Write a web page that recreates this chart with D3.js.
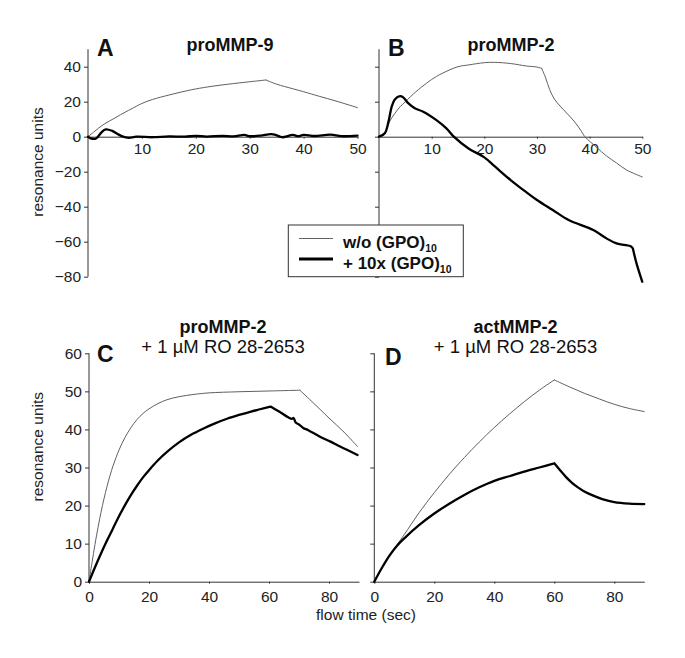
<!DOCTYPE html>
<html>
<head>
<meta charset="utf-8">
<script src="https://cdn.jsdelivr.net/npm/d3@7"></script>
<style>
  html, body { margin: 0; padding: 0; background: #fff; }
  svg { display: block; font-family: "Liberation Sans", Arial, Helvetica, sans-serif; }
</style>
</head>
<body>
<svg id="chart" width="685" height="658"></svg>
<script>
// ---------------- DATA ----------------
const seriesNames = ["w/o (GPO)", "+ 10x (GPO)"];
const seriesSub = "10";
const panelLetters = ["A", "B", "C", "D"];
const panelTitles = ["proMMP-9", "proMMP-2", "proMMP-2", "actMMP-2"];
const panelSubtitles = ["", "", "+ 1 µM RO 28-2653", "+ 1 µM RO 28-2653"];
const yLabel = "resonance units";
const xLabel = "flow time (sec)";

const topYTicks = [-80, -60, -40, -20, 0, 20, 40];
const topXTicks = [10, 20, 30, 40, 50];
const bottomYTicks = [0, 10, 20, 30, 40, 50, 60];
const bottomXTicks = [0, 20, 40, 60, 80];

// Panel A: proMMP-9  [time (sec), resonance units]
const aWithout = [[0,0],[1,2.5],[2,5],[3,7.2],[4,9],[5,10.7],[6,12.5],[7,14.2],[8,15.8],[10,19],[12,21.3],[15,23.8],[18,26],[20,27.3],[23,28.8],[26,30],[30,31.4],[33,32.4],[35,30],[38,27.4],[40,25.7],[43,23],[46,20.4],[50,16.6]];
const aWith = [[0,0],[0.5,-1],[1.5,-1],[2.5,2.5],[3.3,4.2],[4.5,3.3],[5.5,1.5],[6.5,0],[7.5,-0.6],[9,0],[12,-0.3],[15,0.2],[18,0],[20,0.5],[22,0.1],[25,0.5],[27,0.2],[29,1],[30,0.3],[32,0.6],[34,1.5],[35,0.8],[36,-0.3],[38,1],[39,0.3],[40,1],[42,0.4],[45,1.2],[47,0.3],[50,0.6]];
const aWithoutCorners = [33];
const aWithCorners = [];

// Panel B: proMMP-2
const bWithout = [[0,0],[1,1],[1.5,4.8],[2,8.6],[3,13.3],[4,17.1],[5,20],[7,25.7],[9,30.5],[10,32.7],[12,36.2],[15,40],[17,41],[20,42.3],[22,42.5],[25,41.8],[28,40.4],[30,39.8],[30.9,39],[31.6,34],[32.4,27],[33.3,21.5],[34.4,17.5],[35.8,13],[37.2,8.3],[38.3,3.7],[39.1,0],[41.3,-6],[43.2,-11],[45.1,-15],[47,-19],[50,-23]];
const bWith = [[0,0],[1.1,2],[1.8,8.6],[2.4,17],[3,21.3],[4,23.2],[4.6,22.5],[5.6,19],[6.8,16.2],[8.4,14.3],[10.9,9.5],[12.8,4.8],[14.2,0],[17,-6.7],[20,-11.8],[22,-17],[25,-24.8],[27,-29.5],[30,-36.2],[33,-41.9],[36,-47.6],[40.7,-53.3],[43.2,-58.1],[45.1,-61],[47.7,-62.5],[48.2,-63.8],[48.9,-72.4],[50,-82.9]];
const bWithoutCorners = [30.9];
const bWithCorners = [48.2];

// Panel C: proMMP-2 + 1 µM RO 28-2653
const cWithout = [[0,0],[1,5],[2,9.8],[3,14.2],[4,18.2],[5,21.8],[6,25],[7,27.9],[8,30.4],[9,32.6],[10,34.6],[12,37.9],[14,40.5],[16,42.6],[18,44.2],[20,45.4],[23,46.8],[26,47.8],[30,48.6],[35,49.2],[40,49.6],[50,49.9],[60,50.1],[70.3,50.3],[75,46.8],[80,43],[85,39.3],[89.5,35.5]];
const cWith = [[0,0],[2,3.8],[4,7.4],[6,10.8],[8,14],[10,17.2],[12,20.1],[14,22.8],[16,25.2],[18,27.4],[20,29.3],[23,31.9],[26,34.1],[30,36.6],[34,38.6],[38,40.2],[42,41.6],[46,42.8],[50,43.8],[54,44.7],[57,45.3],[60.5,46],[62,45.3],[64,44.4],[66.4,43.2],[67.6,42.8],[68.2,43],[68.9,41.8],[70,41.3],[71.4,40.4],[73.1,39.8],[77,38.1],[80.5,36.8],[83.7,35.5],[89.5,33.3]];
const cWithoutCorners = [70.3];
const cWithCorners = [60.5];

// Panel D: actMMP-2 + 1 µM RO 28-2653
const dWithout = [[0,0],[2.5,3.5],[5,6.7],[7.5,9.6],[10,12.4],[15,18.2],[20,23.4],[25,28.2],[30,32.6],[35,36.7],[40,40.5],[45,44],[50,47.3],[55,50.3],[60,53],[65,51.2],[70,49.5],[75,48],[80,46.6],[85,45.5],[90,44.7]];
const dWith = [[0,0],[2.5,3.6],[5,6.8],[7.5,9.4],[10,11.4],[15,14.9],[20,17.9],[25,20.5],[30,22.8],[35,24.8],[40,26.5],[45,27.7],[50,28.9],[55,30],[60,31.1],[62,29.2],[64,27.4],[66,25.9],[68,24.7],[70,23.7],[73,22.6],[76,21.7],[80,20.9],[85,20.5],[90,20.4]];
const dWithoutCorners = [60];
const dWithCorners = [60];

// ---------------- LAYOUT ----------------
const svg = d3.select("#chart");
svg.append("rect").attr("width", 685).attr("height", 658).attr("fill", "#fff");

const axisColor = "#333";
const thinStyle = { stroke: "#606060", width: 1 };
const thickStyle = { stroke: "#000", width: 2.3 };

const panels = [
  { xd: [0, 50], xr: [88, 357.5], yd: [-80, 50], yr: [276.7, 49.2], yT: topYTicks, xT: topXTicks, yLab: true,
    series: [aWithout, aWith], corners: [aWithoutCorners, aWithCorners], letter: [97, 56], title: [230, 51], sub: null, xPad: 4.5 },
  { xd: [0, 50], xr: [379, 642.3], yd: [-80, 50], yr: [276.7, 49.2], yT: topYTicks, xT: topXTicks, yLab: false,
    series: [bWithout, bWith], corners: [bWithoutCorners, bWithCorners], letter: [388, 56], title: [511, 51], sub: null, xPad: 4.5 },
  { xd: [0, 90], xr: [89, 359], yd: [0, 60], yr: [581.7, 353.3], yT: bottomYTicks, xT: bottomXTicks, yLab: true,
    series: [cWithout, cWith], corners: [cWithoutCorners, cWithCorners], letter: [97, 362], title: [223, 333.3], sub: [223, 353.3], xPad: 7.5 },
  { xd: [0, 90], xr: [374.3, 644.3], yd: [0, 60], yr: [581.7, 353.3], yT: bottomYTicks, xT: bottomXTicks, yLab: false,
    series: [dWithout, dWith], corners: [dWithoutCorners, dWithCorners], letter: [385, 365], title: [515.5, 332.7], sub: [515.5, 353.3], xPad: 7.5 }
];

// split a series at its corner times so sharp kinks stay sharp
function splitAt(data, corners) {
  const segs = [];
  let cur = [];
  data.forEach(d => {
    cur.push(d);
    if (corners.includes(d[0])) { segs.push(cur); cur = [d]; }
  });
  if (cur.length > 1) segs.push(cur);
  return segs;
}

panels.forEach((p, i) => {
  const x = d3.scaleLinear().domain(p.xd).range(p.xr);
  const y = d3.scaleLinear().domain(p.yd).range(p.yr);
  const g = svg.append("g");

  // y axis
  const yAxis = d3.axisLeft(y).tickValues(p.yT).tickSize(4).tickSizeOuter(0).tickPadding(3)
    .tickFormat(p.yLab ? d3.format("d") : () => "");
  const gy = g.append("g").attr("transform", `translate(${p.xr[0]},0)`).call(yAxis);
  gy.select(".domain").attr("stroke", axisColor).attr("d", `M0,${p.yr[0]}V${p.yr[1]}`);
  gy.selectAll(".tick line").attr("stroke", axisColor);
  gy.selectAll(".tick text").attr("fill", "#222").style("font-size", "15.5px");

  // x axis at y = 0
  const xAxis = d3.axisBottom(x).tickValues(p.xT).tickSize(2).tickSizeOuter(0).tickPadding(p.xPad)
    .tickFormat(d3.format("d"));
  const gx = g.append("g").attr("transform", `translate(0,${y(0)})`).call(xAxis);
  gx.select(".domain").attr("stroke", axisColor);
  gx.selectAll(".tick line").attr("stroke", axisColor);
  gx.selectAll(".tick text").attr("fill", "#222").style("font-size", "15.5px");

  // lines
  const line = d3.line().x(d => x(d[0])).y(d => y(d[1])).curve(d3.curveCatmullRom.alpha(0.5));
  [thinStyle, thickStyle].forEach((st, k) => {
    const segs = splitAt(p.series[k], p.corners[k]);
    g.append("path")
      .attr("d", segs.map(s => line(s)).join(""))
      .attr("fill", "none")
      .attr("stroke", st.stroke).attr("stroke-width", st.width)
      .attr("stroke-linejoin", "round").attr("stroke-linecap", "round");
  });

  // letter
  g.append("text").attr("x", p.letter[0]).attr("y", p.letter[1])
    .attr("font-weight", "bold").attr("font-size", "23px").attr("fill", "#111").text(panelLetters[i]);
  // title
  g.append("text").attr("x", p.title[0]).attr("y", p.title[1]).attr("text-anchor", "middle")
    .attr("font-weight", "bold").attr("font-size", "18px").attr("fill", "#111").text(panelTitles[i]);
  if (p.sub) {
    g.append("text").attr("x", p.sub[0]).attr("y", p.sub[1]).attr("text-anchor", "middle")
      .attr("font-size", "18.5px").attr("fill", "#111").text(panelSubtitles[i]);
  }
});

// y axis labels
[[43, 162], [43, 446.7]].forEach(([lx, ly]) => {
  svg.append("text").attr("transform", `translate(${lx},${ly}) rotate(-90)`)
    .attr("text-anchor", "middle").attr("font-size", "15.5px").attr("fill", "#222").text(yLabel);
});
// x axis label
svg.append("text").attr("x", 366).attr("y", 620).attr("text-anchor", "middle")
  .attr("font-size", "15.5px").attr("fill", "#222").text(xLabel);

// legend
const lg = svg.append("g");
lg.append("rect").attr("x", 288.3).attr("y", 225).attr("width", 175).attr("height", 51.7)
  .attr("fill", "#fff").attr("stroke", "#333").attr("stroke-width", 1);
[thinStyle, thickStyle].forEach((st, k) => {
  const ly = 238.5 + k * 20.5;
  lg.append("line").attr("x1", 299).attr("x2", 333).attr("y1", ly).attr("y2", ly)
    .attr("stroke", st.stroke).attr("stroke-width", k ? 2.8 : 1);
  const t = lg.append("text").attr("x", 343).attr("y", ly + 9.5)
    .attr("font-weight", "bold").attr("font-size", "17px").attr("fill", "#111");
  t.append("tspan").text(seriesNames[k]);
  t.append("tspan").attr("dy", 4).attr("font-size", "10.5px").text(seriesSub);
});
</script>
</body>
</html>
